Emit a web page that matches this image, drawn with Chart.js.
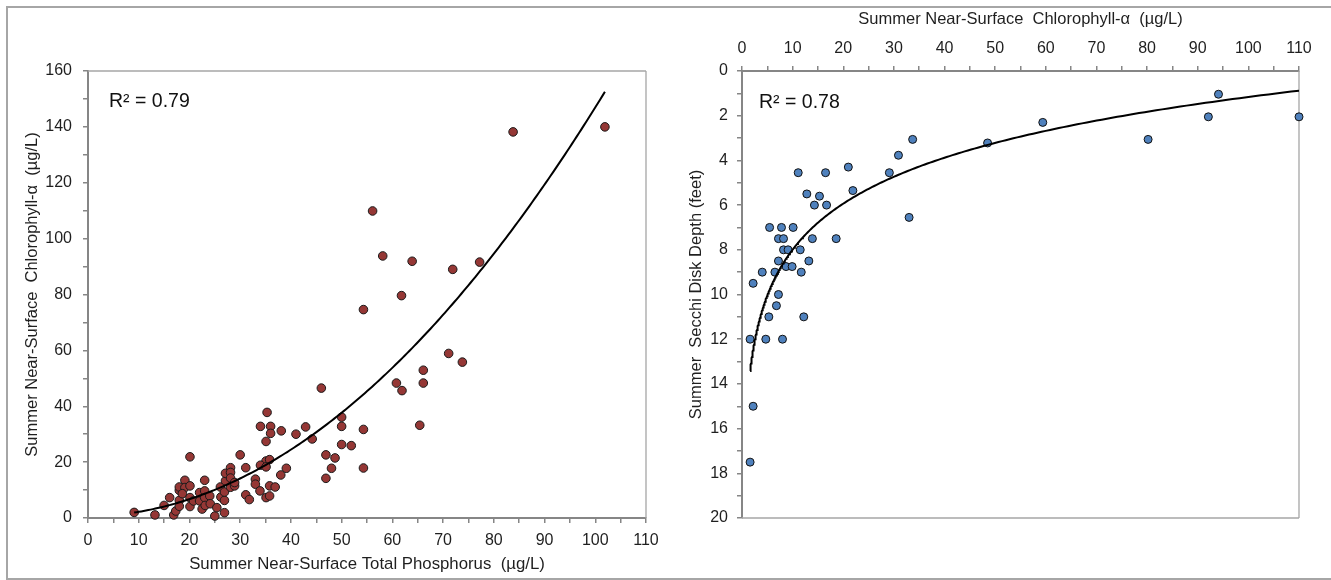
<!DOCTYPE html>
<html>
<head>
<meta charset="utf-8">
<title>Phosphorus, Chlorophyll and Secchi Depth</title>
<script src="https://cdn.jsdelivr.net/npm/chart.js@4.4.1/dist/chart.umd.min.js"></script>
<style>
  body { margin: 0; background: #fff; }
  #frame {
    position: absolute; left: 6px; top: 6px; width: 1400px; height: 570px;
    border: 2px solid #a6a6a6; border-right: none;
  }
  canvas { position: absolute; top: 0; }
  #phosChart { left: 0; }
  #secchiChart { left: 680px; }
</style>
</head>
<body>
<div id="frame"></div>
<canvas id="phosChart" width="680" height="580"></canvas>
<canvas id="secchiChart" width="651" height="580"></canvas>
<script>
// Summer near-surface total phosphorus (ug/L) vs chlorophyll-a (ug/L)
const tpValues = [
  9.1, 13.2, 16.9, 17.3, 15.0, 16.1, 18.0, 18.0, 18.0, 18.0,
  19.1, 19.1, 20.1, 20.1, 18.6, 20.1, 20.1, 20.8, 22.0, 22.0,
  23.0, 23.0, 23.0, 22.5, 23.1, 24.0, 24.1, 25.0, 25.4, 26.1,
  26.2, 26.9, 26.9, 26.9, 27.1, 27.1, 28.1, 28.1, 28.1, 28.1,
  28.9, 28.9, 30.0, 31.1, 31.1, 31.8, 33.0, 33.0, 33.9, 34.0,
  35.1, 35.3, 36.0, 36.0, 35.1, 35.8, 34.0, 35.1, 35.1, 35.8,
  35.8, 36.9, 38.1, 38.0, 39.1, 41.0, 42.9, 44.2, 46.0, 46.9,
  46.9, 48.0, 48.7, 50.0, 50.0, 50.0, 51.9, 54.3, 54.3, 54.3,
  56.1, 58.1, 61.8, 63.9, 60.8, 61.9, 66.1, 66.1, 65.4, 71.1,
  73.8, 71.9, 77.2, 83.8, 101.9
];
const chlValues = [
  2.0, 1.1, 1.1, 2.5, 4.5, 7.3, 6.3, 4.2, 9.9, 11.1,
  13.5, 10.9, 11.5, 21.9, 8.7, 7.3, 4.1, 6.1, 6.1, 9.1,
  13.5, 9.7, 7.3, 3.2, 4.5, 7.9, 5.1, 0.7, 3.7, 11.1,
  7.5, 6.3, 1.9, 9.3, 13.3, 16.0, 18.0, 16.3, 14.3, 11.0,
  11.5, 12.7, 22.6, 18.0, 8.3, 6.6, 13.9, 12.1, 9.7, 32.8,
  27.4, 37.8, 32.8, 30.3, 20.4, 20.9, 18.9, 18.3, 7.3, 7.9,
  11.5, 11.1, 31.2, 15.4, 17.8, 30.0, 32.6, 28.3, 46.5, 22.6,
  14.2, 17.8, 21.5, 36.1, 32.8, 26.3, 25.9, 31.7, 17.9, 74.6,
  109.9, 93.8, 79.6, 91.9, 48.3, 45.6, 52.9, 48.3, 33.2, 58.9,
  55.8, 89.0, 91.6, 138.2, 140.0
];

// Summer chlorophyll-a (ug/L) vs Secchi disk depth (feet)
const secchiChl = [
  1.6, 4.7, 8.0, 2.2, 7.2, 6.8, 5.3, 12.2, 4.0, 6.5,
  11.7, 8.7, 9.9, 7.2, 13.2, 8.2, 9.1, 11.5, 7.2, 8.2,
  13.9, 18.6, 5.45, 7.8, 10.1, 14.3, 16.7, 12.8, 15.3, 11.1,
  16.5, 21.0, 21.9, 29.1, 30.9, 33.0, 33.7, 48.5, 59.4, 80.2,
  92.1, 94.1, 110, 2.2, 1.6
];
const secchiDepth = [
  12, 12, 12, 9.5, 10, 10.5, 11, 11, 9, 9,
  9, 8.75, 8.75, 8.5, 8.5, 8, 8, 8, 7.5, 7.5,
  7.5, 7.5, 7, 7, 7, 6, 6, 5.5, 5.6, 4.55,
  4.55, 4.3, 5.35, 4.55, 3.77, 6.55, 3.06, 3.22, 2.3, 3.06,
  2.05, 1.04, 2.05, 15, 17.5
];

const phosRsq = 'R² = 0.79';
const secchiRsq = 'R² = 0.78';

// least squares y = c0 + c1 x + c2 x^2
function quadFit(xs, ys) {
  const s = [0, 0, 0, 0, 0], t = [0, 0, 0];
  xs.forEach((x, i) => {
    let p = 1;
    for (let k = 0; k < 5; k++) {
      s[k] += p;
      if (k < 3) t[k] += p * ys[i];
      p *= x;
    }
  });
  const m = [
    [s[0], s[1], s[2], t[0]],
    [s[1], s[2], s[3], t[1]],
    [s[2], s[3], s[4], t[2]]
  ];
  for (let i = 0; i < 3; i++) {
    for (let j = i + 1; j < 3; j++) {
      const f = m[j][i] / m[i][i];
      for (let k = i; k < 4; k++) m[j][k] -= f * m[i][k];
    }
  }
  const c = [0, 0, 0];
  for (let i = 2; i >= 0; i--) {
    let v = m[i][3];
    for (let k = i + 1; k < 3; k++) v -= m[i][k] * c[k];
    c[i] = v / m[i][i];
  }
  return x => c[0] + c[1] * x + c[2] * x * x;
}

// least squares y = a ln(x) + b
function logFit(xs, ys) {
  const lx = xs.map(Math.log);
  const n = xs.length;
  const mx = lx.reduce((a, b) => a + b, 0) / n;
  const my = ys.reduce((a, b) => a + b, 0) / n;
  let sxy = 0, sxx = 0;
  lx.forEach((v, i) => { sxy += (v - mx) * (ys[i] - my); sxx += (v - mx) ** 2; });
  const a = sxy / sxx, b = my - a * mx;
  return x => a * Math.log(x) + b;
}

// sample a fitted curve across the data range
function trendPoints(fn, xs, n, geometric) {
  const lo = Math.min(...xs), hi = Math.max(...xs);
  const pts = [];
  for (let i = 0; i <= n; i++) {
    const t = i / n;
    const x = geometric ? lo * Math.pow(hi / lo, t) : lo + (hi - lo) * t;
    pts.push({ x, y: fn(x) });
  }
  return pts;
}

const toXY = (xs, ys) => xs.map((x, i) => ({ x, y: ys[i] }));

const fontFamily = "'Liberation Sans', Arial, sans-serif";
const textColor = '#1f1f1f';
const axisColor = '#868686';
const edgeColor = '#a6a6a6';
const tickFont = { family: fontFamily, size: 16 };
const titleFont = { family: fontFamily, size: 16.5 };

// light border on the open sides of the plot area, plus the R² note
const plotFrame = {
  id: 'plotFrame',
  beforeDatasetsDraw(chart, args, opts) {
    const { ctx, chartArea: a } = chart;
    ctx.save();
    ctx.strokeStyle = edgeColor;
    ctx.lineWidth = 1.3;
    ctx.beginPath();
    opts.sides.forEach(side => {
      if (side === 'top') { ctx.moveTo(a.left, a.top); ctx.lineTo(a.right, a.top); }
      if (side === 'right') { ctx.moveTo(a.right, a.top); ctx.lineTo(a.right, a.bottom); }
      if (side === 'bottom') { ctx.moveTo(a.left, a.bottom); ctx.lineTo(a.right, a.bottom); }
    });
    ctx.stroke();
    ctx.restore();
  },
  afterDatasetsDraw(chart, args, opts) {
    const { ctx, chartArea: a } = chart;
    ctx.save();
    ctx.fillStyle = '#111';
    ctx.font = '19.5px ' + fontFamily;
    ctx.textBaseline = 'alphabetic';
    ctx.fillText(opts.label, a.left + opts.dx, a.top + opts.dy);
    ctx.restore();
  }
};

function tickAxis(extra) {
  return Object.assign({
    type: 'linear',
    ticks: { autoSkip: false, maxRotation: 0, color: textColor, font: tickFont },
    grid: { drawOnChartArea: false, drawTicks: true, tickLength: 5, color: axisColor, lineWidth: 1.5 },
    border: { display: true, color: axisColor, width: 2 }
  }, extra);
}

const common = {
  responsive: false,
  animation: false,
  devicePixelRatio: 1,
  events: []
};

new Chart(document.getElementById('phosChart'), {
  type: 'scatter',
  data: {
    datasets: [
      {
        type: 'line',
        data: trendPoints(quadFit(tpValues, chlValues), tpValues, 200, false),
        borderColor: '#000',
        borderWidth: 2,
        pointRadius: 0,
        tension: 0,
        fill: false,
        order: 0
      },
      {
        data: toXY(tpValues, chlValues),
        backgroundColor: '#953735',
        borderColor: '#1a1a1a',
        borderWidth: 1,
        pointRadius: 4.3,
        clip: false,
        order: 1
      }
    ]
  },
  options: Object.assign({}, common, {
    layout: { padding: { top: 71, right: 34, left: 0, bottom: 0 } },
    plugins: {
      legend: { display: false },
      tooltip: { enabled: false },
      plotFrame: { sides: ['top', 'right'], label: phosRsq, dx: 21, dy: 36 }
    },
    scales: {
      x: tickAxis({
        position: 'bottom', min: 0, max: 110,
        afterFit: s => { s.height = 62; },
        ticks: { stepSize: 5, autoSkip: false, maxRotation: 0, padding: 8, color: textColor, font: tickFont,
                 callback: v => (v % 10 === 0 ? v : '') },
        title: { display: true, text: 'Summer Near-Surface Total Phosphorus  (µg/L)',
                 color: textColor, font: { family: fontFamily, size: 16.8 }, padding: { top: 0, bottom: 6 } }
      }),
      y: tickAxis({
        position: 'left', min: 0, max: 160,
        afterFit: s => { s.width = 88; },
        ticks: { stepSize: 10, autoSkip: false, padding: 11, color: textColor, font: tickFont,
                 callback: v => (v % 20 === 0 ? v : '') },
        title: { display: true, text: 'Summer Near-Surface  Chlorophyll-α  (µg/L)',
                 color: textColor, font: titleFont, padding: { top: 23, bottom: 0 } }
      })
    }
  }),
  plugins: [plotFrame]
});

new Chart(document.getElementById('secchiChart'), {
  type: 'scatter',
  data: {
    datasets: [
      {
        type: 'line',
        data: trendPoints(logFit(secchiChl, secchiDepth), secchiChl, 300, true),
        borderColor: '#000',
        borderWidth: 2,
        pointRadius: 0,
        tension: 0,
        fill: false,
        order: 0
      },
      {
        data: toXY(secchiChl, secchiDepth),
        backgroundColor: '#4f81bd',
        borderColor: '#111',
        borderWidth: 1,
        pointRadius: 4,
        clip: false,
        order: 1
      }
    ]
  },
  options: Object.assign({}, common, {
    layout: { padding: { top: 0, right: 32, left: 0, bottom: 62 } },
    plugins: {
      legend: { display: false },
      tooltip: { enabled: false },
      plotFrame: { sides: ['right', 'bottom'], label: secchiRsq, dx: 17, dy: 37 }
    },
    scales: {
      x: tickAxis({
        position: 'top', min: 0, max: 110,
        afterFit: s => { s.height = 71; },
        ticks: { stepSize: 5, autoSkip: false, maxRotation: 0, padding: 8, color: textColor, font: tickFont,
                 callback: v => (v % 10 === 0 ? v : '') },
        title: { display: true, text: 'Summer Near-Surface  Chlorophyll-α  (µg/L)',
                 color: textColor, font: titleFont, padding: { top: 10, bottom: 0 } }
      }),
      y: tickAxis({
        position: 'left', min: 0, max: 20, reverse: true,
        afterFit: s => { s.width = 62; },
        ticks: { stepSize: 1, autoSkip: false, padding: 9, color: textColor, font: tickFont,
                 callback: v => (v % 2 === 0 ? v : '') },
        title: { display: true, text: 'Summer  Secchi Disk Depth (feet)',
                 color: textColor, font: titleFont, padding: { top: 7, bottom: 0 } }
      })
    }
  }),
  plugins: [plotFrame]
});
</script>
</body>
</html>
